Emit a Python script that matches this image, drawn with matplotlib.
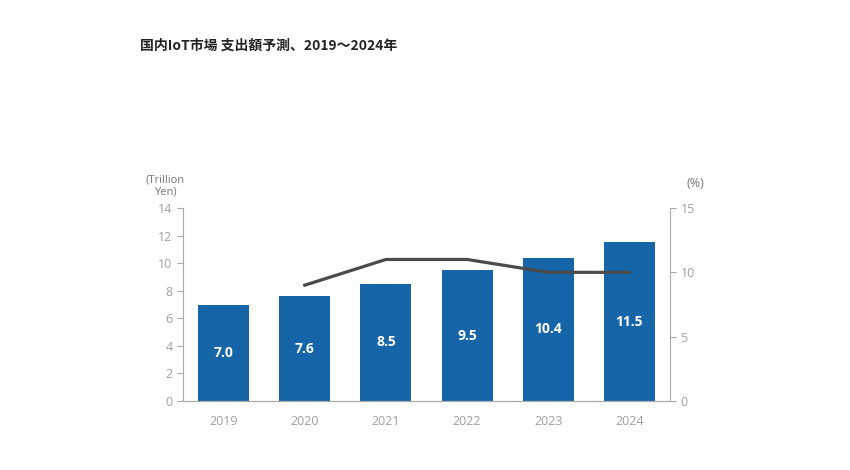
import matplotlib.pyplot as plt

plt.rcParams['font.family'] = ['Open Sans', 'Noto Sans CJK JP', 'DejaVu Sans']

years = ["2019", "2020", "2021", "2022", "2023", "2024"]
spending = [7.0, 7.6, 8.5, 9.5, 10.4, 11.5]
growth_years = ["2020", "2021", "2022", "2023", "2024"]
growth = [9, 11, 11, 10, 10]

bar_color = "#1565a8"
grey = "#a0a0a0"

fig = plt.figure(figsize=(8.5, 4.7), dpi=100)
ax = fig.add_axes([183 / 850, 1 - 401 / 470, 487 / 850, 193 / 470])

x = list(range(len(years)))
bars = ax.bar(x, spending, width=0.63, color=bar_color, zorder=2)
for xi, v in zip(x, spending):
    ax.text(xi, v / 2, f"{v:.1f}", ha="center", va="center", color="white",
            fontsize=10, fontweight="bold", zorder=3)

ax.set_xlim(-0.5, len(years) - 0.5)
ax.set_ylim(0, 14)
ax.set_yticks(range(0, 15, 2))
ax.set_xticks(x)
ax.set_xticklabels(years)

ax2 = ax.twinx()
gx = [years.index(y) for y in growth_years]
ax2.plot(gx, growth, color="#4a4a4a", linewidth=2.3, zorder=4)
ax2.set_ylim(0, 15)
ax2.set_yticks([0, 5, 10, 15])

for a in (ax, ax2):
    for s in a.spines.values():
        s.set_color("#aaaaaa")
    a.spines["top"].set_visible(False)
    a.tick_params(colors=grey, labelsize=9, length=4, color="#aaaaaa")
ax.spines["right"].set_visible(False)
ax2.spines["left"].set_visible(False)
ax.tick_params(axis="x", length=0, pad=10)

fig.text(165 / 850, 1 - 186 / 470, "(Trillion\nYen)", ha="center", va="center",
         color="#777777", fontsize=8, linespacing=1.1)
fig.text(695 / 850, 1 - 183 / 470, "(%)", ha="center", va="center",
         color="#777777", fontsize=9)
fig.text(140 / 850, 1 - 46 / 470, "国内IoT市場 支出額予測、2019～2024年",
         ha="left", va="center", fontsize=10, fontweight="bold", color="#222222",
         family=["Noto Sans CJK JP", "DejaVu Sans"])

fig.savefig("out.png", dpi=100, facecolor="white")
